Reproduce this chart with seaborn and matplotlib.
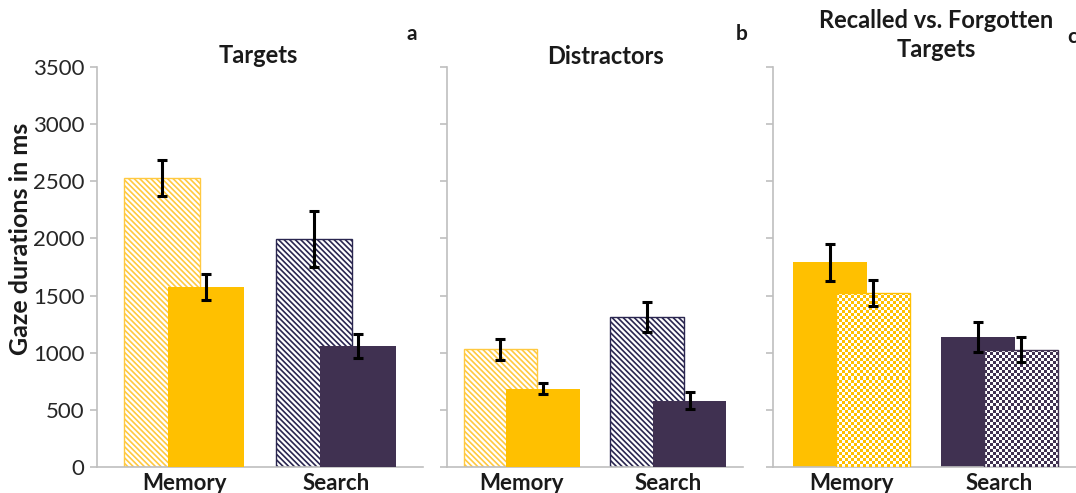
import numpy as np
import pandas as pd
import matplotlib
matplotlib.use('Agg')
import matplotlib.pyplot as plt
from matplotlib.colors import ListedColormap
import seaborn as sns

# values
tasks = ['Memory', 'Search']
bar_sets = ['first', 'second']

targets_first = [2530, 1995]
targets_first_err = [160, 245]
targets_second = [1575, 1055]
targets_second_err = [110, 105]

distr_first = [1030, 1310]
distr_first_err = [90, 130]
distr_second = [685, 580]
distr_second_err = [50, 75]

recalled = [1790, 1135]
recalled_err = [160, 130]
forgotten = [1525, 1025]
forgotten_err = [115, 110]

yticks = [0, 500, 1000, 1500, 2000, 2500, 3000, 3500]

YELLOW = '#FFC000'
PURPLE = '#403151'

sns.set_theme(style='white')
plt.rcParams['font.family'] = ['Lato', 'DejaVu Sans']
plt.rcParams['hatch.linewidth'] = 1.2

fig = plt.figure(figsize=(10.76, 4.93), dpi=100)
W, H = 1076, 493
def box(l, r, t=67, b=467):
    return [l / W, 1 - b / H, (r - l) / W, (b - t) / H]

ax_a = fig.add_axes(box(97, 423))
ax_b = fig.add_axes(box(447, 743))
ax_c = fig.add_axes(box(773, 1078))


def make_df(first, second):
    return pd.DataFrame({
        'task': tasks * 2,
        'set': [bar_sets[0]] * 2 + [bar_sets[1]] * 2,
        'value': list(first) + list(second),
    })


def draw_panel(ax, first, first_err, second, second_err, xlim):
    df = make_df(first, second)
    sns.barplot(data=df, x='task', y='value', hue='set', dodge=True,
                errorbar=None, legend=False, ax=ax, saturation=1)
    # overlap the two bars of each task
    for i, p in enumerate(ax.patches[:4]):
        cat = i % 2
        off = -0.145 if i < 2 else 0.145
        p.set_width(0.5)
        p.set_x(cat + off - 0.25)
        p.set_zorder(2 if i < 2 else 3)
    ax.set_xlim(*xlim)
    ax.set_ylim(0, 3500)
    ax.set_yticks(yticks)
    centers = [p.get_x() + p.get_width() / 2 for p in ax.patches[:4]]
    ax.errorbar(centers, list(first) + list(second),
                yerr=list(first_err) + list(second_err), fmt='none',
                ecolor='black', elinewidth=2.2, capsize=3.5, capthick=2.2,
                zorder=6)
    for s in ['top', 'right']:
        ax.spines[s].set_visible(False)
    for s in ['left', 'bottom']:
        ax.spines[s].set_color('#bfbfbf')
        ax.spines[s].set_linewidth(1.2)
    ax.tick_params(axis='y', left=True, length=5, color='#bfbfbf', width=1.2,
                   labelsize=16, labelcolor='#262626', pad=4)
    ax.tick_params(axis='x', length=0, pad=4, labelsize=16)
    for t in ax.get_xticklabels():
        t.set_fontweight('bold')
        t.set_color('#1a1a1a')
    ax.set_xlabel('')
    ax.set_ylabel('')
    return ax.patches[:4]


def hatched(p, color):
    p.set_facecolor('white')
    p.set_edgecolor(color)
    p.set_hatch('\\' * 6)
    p.set_linewidth(1.0)


def solid(p, color):
    p.set_facecolor(color)
    p.set_edgecolor(color)
    p.set_linewidth(0)


def checkered(ax, p, color, sq=3.0):
    fig.canvas.draw()
    x0, y0 = p.get_x(), p.get_y()
    w, h = p.get_width(), p.get_height()
    (px0, py0), (px1, py1) = ax.transData.transform([(x0, y0), (x0 + w, y0 + h)])
    nx = max(int(round((px1 - px0) / sq)), 2)
    ny = max(int(round((py1 - py0) / sq)), 2)
    img = np.indices((ny, nx)).sum(0) % 2
    im = ax.imshow(img, extent=[x0, x0 + w, y0, y0 + h], origin='lower',
                   cmap=ListedColormap(['white', color]), aspect='auto',
                   interpolation='nearest', zorder=p.get_zorder() + 0.1)
    im.set_clip_path(p)
    p.set_facecolor('none')
    p.set_edgecolor(color)
    p.set_linewidth(1.0)
    p.set_zorder(p.get_zorder() + 0.2)


# panel a
pa = draw_panel(ax_a, targets_first, targets_first_err, targets_second,
                targets_second_err, (-0.576, 1.576))
hatched(pa[0], '#FFC940')
hatched(pa[1], '#2a2650')
solid(pa[2], YELLOW)
solid(pa[3], PURPLE)

# panel b
pb = draw_panel(ax_b, distr_first, distr_first_err, distr_second,
                distr_second_err, (-0.51, 1.51))
hatched(pb[0], '#FFC940')
hatched(pb[1], '#2a2650')
solid(pb[2], YELLOW)
solid(pb[3], PURPLE)

# panel c
pc = draw_panel(ax_c, recalled, recalled_err, forgotten, forgotten_err,
                (-0.53, 1.53))
solid(pc[0], YELLOW)
solid(pc[1], PURPLE)
checkered(ax_c, pc[2], YELLOW)
checkered(ax_c, pc[3], PURPLE)
ax_c.set_xlim(-0.53, 1.53)
ax_c.set_ylim(0, 3500)

ax_b.tick_params(axis='y', labelleft=False)
ax_c.tick_params(axis='y', labelleft=False)

ax_a.set_ylabel('Gaze durations in ms', fontsize=18, fontweight='bold',
                color='#1a1a1a')
ax_a.yaxis.set_label_coords(-0.2, 0.57)

title_kw = dict(ha='center', va='baseline', fontsize=17, fontweight='bold',
                color='#1a1a1a')
ax_a.text(0.494, 1.01, 'Targets', transform=ax_a.transAxes, **title_kw)
ax_b.text(0.535, 1.008, 'Distractors', transform=ax_b.transAxes, **title_kw)
ax_c.text(0.534, 1.0975, 'Recalled vs. Forgotten', transform=ax_c.transAxes, **title_kw)
ax_c.text(0.534, 1.025, 'Targets', transform=ax_c.transAxes, **title_kw)

letter_kw = dict(ha='center', va='baseline', fontsize=15, fontweight='bold',
                 color='#1a1a1a')
fig.text(412 / W, 1 - 40 / H, 'a', **letter_kw)
fig.text(742 / W, 1 - 40 / H, 'b', **letter_kw)
fig.text(1072 / W, 1 - 43 / H, 'c', **letter_kw)

fig.savefig('out.png', dpi=100)
